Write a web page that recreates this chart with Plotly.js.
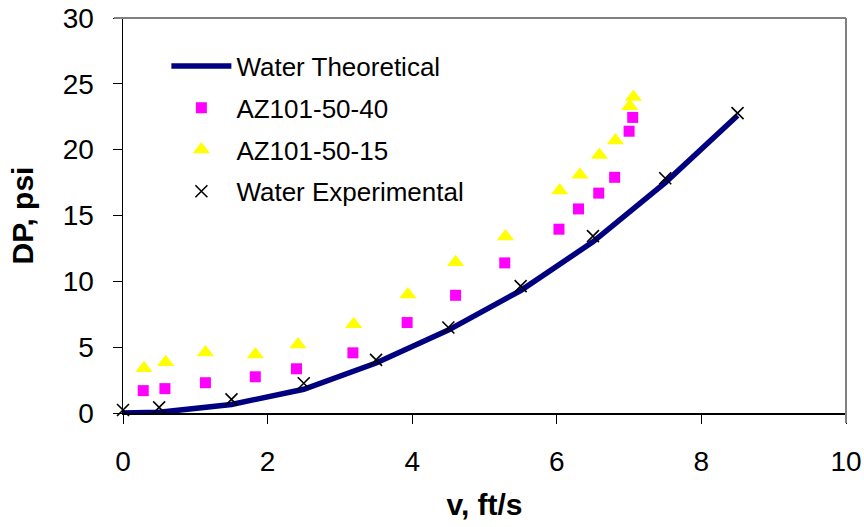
<!DOCTYPE html>
<html>
<head>
<meta charset="utf-8">
<script src="https://cdn.plot.ly/plotly-3.0.1.min.js"></script>
<style>html,body{margin:0;padding:0;background:#fff;}#chart{width:864px;height:527px;}</style>
</head>
<body>
<div id="chart"></div>
<script>
// Water Theoretical
var theoV = [0, 0.5, 1.5, 2.5, 3.5, 4.5, 5.5, 6.5, 7.5, 8.5];
var theoDP = [0, 0.05, 0.65, 1.8, 3.8, 6.3, 9.3, 13.0, 17.5, 22.6];
// AZ101-50-40
var az40V = [0.28, 0.58, 1.14, 1.83, 2.40, 3.18, 3.93, 4.60, 5.28, 6.03, 6.30, 6.58, 6.80, 7.00, 7.05];
var az40DP = [1.7, 1.85, 2.3, 2.75, 3.36, 4.57, 6.87, 8.94, 11.4, 13.96, 15.5, 16.7, 17.9, 21.4, 22.45];
// AZ101-50-15
var az15V = [0.29, 0.59, 1.14, 1.83, 2.42, 3.19, 3.94, 4.60, 5.29, 6.04, 6.32, 6.59, 6.81, 7.01, 7.06];
var az15DP = [3.4, 3.85, 4.6, 4.45, 5.2, 6.75, 9.0, 11.45, 13.4, 16.9, 18.1, 19.6, 20.7, 23.3, 24.0];
// Water Experimental
var expV = [0, 0.5, 1.5, 2.5, 3.5, 4.5, 5.5, 6.5, 7.5, 8.5];
var expDP = [0.23, 0.43, 1.04, 2.26, 4.03, 6.49, 9.64, 13.43, 17.83, 22.78];

var xTicks = [0, 2, 4, 6, 8, 10];
var yTicks = [0, 5, 10, 15, 20, 25, 30];

var traces = [
  {x: theoV, y: theoDP, name: 'Water Theoretical', mode: 'lines', legendgroup: 'a',
   line: {color: '#000080', width: 5.5}},
  {x: az40V, y: az40DP, name: 'AZ101-50-40', mode: 'markers', legendgroup: 'b',
   marker: {symbol: 'square', color: '#FF00FF', size: 11}},
  {x: az15V, y: az15DP, name: 'AZ101-50-15', mode: 'markers', legendgroup: 'c',
   marker: {symbol: 'triangle-up', color: '#FFFF00', size: 15}},
  {x: expV, y: expDP, name: 'Water Experimental', mode: 'markers', legendgroup: 'd',
   marker: {symbol: 'x-thin', size: 12, line: {color: '#000000', width: 1.6}}}
];

var layout = {
  width: 864, height: 527,
  margin: {l: 123, r: 18, t: 18, b: 114},
  paper_bgcolor: '#ffffff', plot_bgcolor: '#ffffff',
  font: {family: 'Liberation Sans, Arial, sans-serif', color: '#000'},
  showlegend: true,
  legend: {x: 0.06, y: 0.938, xanchor: 'left', yanchor: 'top', bgcolor: 'rgba(0,0,0,0)',
           font: {size: 26, family: 'Liberation Sans, Arial, sans-serif', color: '#000'},
           traceorder: 'grouped', tracegroupgap: 5, itemwidth: 60},
  xaxis: {range: [0, 10], tickvals: xTicks, ticktext: xTicks.map(String),
          showline: true, linecolor: '#000', linewidth: 1.5, ticks: 'outside', ticklen: 9,
          tickcolor: '#000', showgrid: false, zeroline: false, ticklabelstandoff: 14,
          tickfont: {size: 28, family: 'Liberation Sans, Arial, sans-serif', color: '#000'},
          title: {text: '<b>v, ft/s</b>', standoff: 18,
                  font: {size: 30, family: 'Liberation Sans, Arial, sans-serif', color: '#000'}}},
  yaxis: {range: [0, 30], tickvals: yTicks, ticktext: yTicks.map(String),
          showline: true, linecolor: '#000', linewidth: 1.5, ticks: 'outside', ticklen: 9,
          tickcolor: '#000', showgrid: false, zeroline: false, ticklabelstandoff: 13,
          tickfont: {size: 28, family: 'Liberation Sans, Arial, sans-serif', color: '#000'},
          title: {text: '<b>DP, psi</b>', standoff: 20,
                  font: {size: 30, family: 'Liberation Sans, Arial, sans-serif', color: '#000'}}},
  shapes: [
    {type: 'line', xref: 'paper', yref: 'paper', x0: -0.0124, x1: 1, y0: 1, y1: 1,
     line: {color: '#808080', width: 2}},
    {type: 'line', xref: 'paper', yref: 'paper', x0: 1, x1: 1, y0: 1, y1: -0.025,
     line: {color: '#808080', width: 2}}
  ]
};

traces.forEach(function(t){ t.cliponaxis = false; });
Plotly.newPlot('chart', traces, layout, {displayModeBar: false, staticPlot: true});
</script>
</body>
</html>
